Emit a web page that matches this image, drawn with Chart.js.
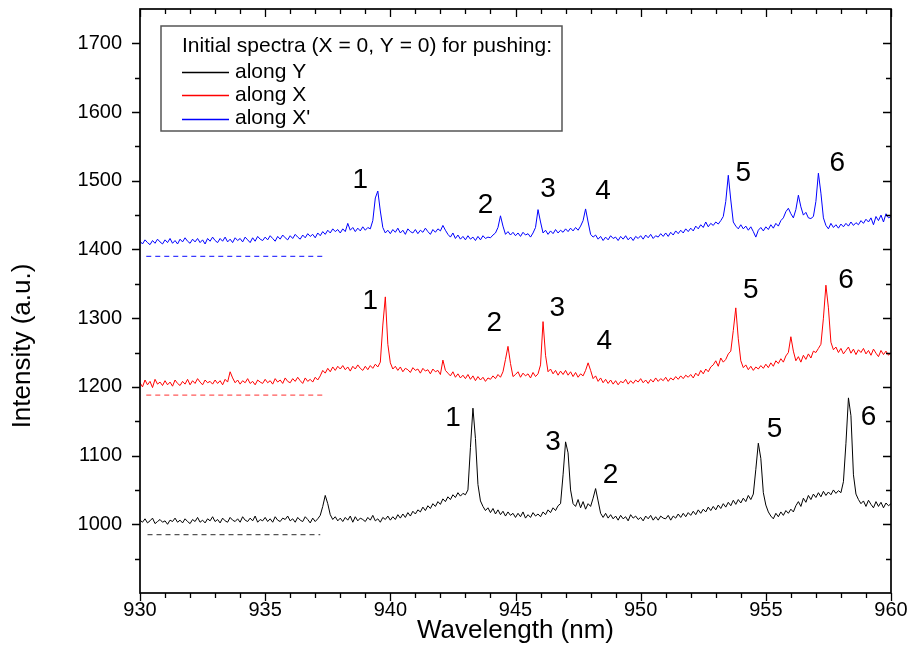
<!DOCTYPE html>
<html><head><meta charset="utf-8">
<script src="https://cdn.jsdelivr.net/npm/chart.js@4/dist/chart.umd.min.js"></script>
<style>html,body{margin:0;padding:0;background:#fff}canvas{display:block}</style>
</head><body>
<canvas id="c" width="913" height="648"></canvas>
<script>
// ---------- data ----------
const wavelengthStart = 930, wavelengthStep = 0.1, wavelengthCount = 301;
const wavelength = Array.from({length: wavelengthCount}, (_, i) => +(wavelengthStart + i * wavelengthStep).toFixed(1));

const seriesLabels = ['along Y', 'along X', "along X'"];
const legendTitle = 'Initial spectra (X = 0, Y = 0) for pushing:';
const xAxisTitle = 'Wavelength (nm)';
const yAxisTitle = 'Intensity (a.u.)';

const alongY = [
1006,1003,1008,1002,1005,1009,1001,1004,1007,1003,
1005,1000,1006,1004,1009,1003,1006,1002,1008,1004,
1001,1007,1004,1010,1003,1006,1002,1008,1005,1011,
1004,1007,1002,1009,1005,1003,1010,1006,1004,1008,
1003,1011,1006,1004,1009,1005,1012,1003,1007,1005,
1010,1004,1008,1003,1011,1006,1004,1009,1007,1012,
1005,1008,1003,1010,1006,1004,1011,1007,1002,1009,
1004,1008,1013,1026,1042,1030,1014,1007,1011,1005,
1009,1004,1010,1006,1012,1003,1011,1005,1009,1007,
1004,1010,1006,1013,1005,1008,1003,1010,1007,1012,
1006,1011,1007,1014,1009,1015,1010,1017,1012,1019,
1015,1021,1018,1025,1020,1027,1023,1030,1026,1033,
1029,1037,1033,1040,1036,1043,1039,1046,1041,1045,
1043,1050,1112,1169,1125,1058,1034,1026,1020,1024,
1017,1023,1015,1021,1014,1019,1012,1018,1013,1016,
1010,1016,1011,1018,1009,1014,1010,1017,1012,1015,
1011,1018,1014,1021,1017,1024,1020,1027,1030,1072,
1120,1104,1050,1030,1026,1036,1024,1033,1022,1030,
1026,1038,1052,1034,1016,1010,1016,1009,1014,1008,
1012,1006,1013,1008,1011,1005,1014,1009,1012,1007,
1010,1005,1012,1008,1013,1006,1011,1006,1012,1009,
1008,1013,1006,1012,1009,1015,1010,1016,1011,1017,
1013,1019,1014,1021,1016,1022,1018,1025,1020,1026,
1021,1028,1023,1030,1025,1032,1027,1035,1029,1036,
1031,1038,1033,1042,1036,1044,1080,1118,1096,1046,
1028,1018,1012,1008,1016,1011,1018,1013,1020,1016,
1022,1018,1027,1033,1026,1038,1032,1042,1036,1044,
1039,1046,1040,1048,1042,1047,1043,1050,1045,1049,
1046,1062,1118,1184,1158,1072,1044,1036,1030,1034,
1026,1035,1029,1024,1033,1026,1032,1024,1031,1027,
1030];

const alongX = [
1206,1200,1210,1203,1208,1199,1211,1204,1207,1202,
1209,1203,1207,1201,1210,1205,1202,1208,1204,1211,
1203,1209,1205,1212,1207,1203,1210,1206,1208,1204,
1210,1205,1209,1203,1211,1207,1222,1213,1206,1210,
1204,1209,1206,1212,1205,1208,1203,1210,1207,1205,
1211,1206,1209,1204,1212,1207,1210,1205,1213,1208,
1206,1212,1208,1214,1209,1205,1213,1208,1211,1207,
1214,1210,1216,1224,1220,1227,1222,1229,1224,1230,
1226,1231,1225,1229,1223,1230,1226,1232,1227,1224,
1230,1225,1231,1227,1233,1229,1236,1290,1331,1262,
1235,1226,1230,1224,1229,1222,1227,1225,1221,1228,
1224,1226,1220,1227,1223,1225,1219,1226,1222,1224,
1218,1239,1224,1220,1216,1222,1214,1219,1213,1217,
1212,1218,1211,1216,1209,1215,1210,1214,1208,1213,
1211,1216,1212,1218,1214,1222,1240,1259,1234,1215,
1218,1222,1214,1220,1216,1219,1213,1221,1215,1219,
1232,1295,1246,1222,1226,1219,1224,1217,1223,1218,
1224,1217,1222,1215,1221,1214,1219,1216,1224,1235,
1224,1212,1216,1208,1213,1206,1211,1205,1210,1204,
1209,1203,1208,1206,1211,1204,1209,1205,1210,1207,
1212,1206,1210,1205,1211,1207,1213,1208,1212,1209,
1214,1208,1213,1210,1215,1211,1216,1212,1217,1214,
1218,1213,1220,1216,1224,1219,1226,1222,1229,1232,
1238,1230,1242,1236,1240,1248,1252,1282,1315,1270,
1238,1228,1232,1225,1230,1224,1229,1226,1231,1227,
1233,1228,1235,1230,1238,1234,1241,1236,1245,1250,
1273,1252,1238,1244,1236,1246,1240,1248,1242,1252,
1250,1256,1262,1300,1348,1315,1265,1254,1258,1250,
1256,1248,1253,1258,1249,1255,1247,1254,1250,1256,
1248,1253,1246,1255,1249,1244,1253,1247,1252,1246,
1250];

const alongXPrime = [
1412,1408,1414,1410,1407,1413,1409,1415,1411,1408,
1414,1410,1416,1409,1413,1408,1415,1411,1417,1412,
1409,1415,1411,1416,1410,1414,1408,1416,1412,1418,
1413,1410,1416,1412,1418,1411,1415,1410,1417,1413,
1416,1411,1418,1414,1410,1417,1412,1419,1415,1413,
1418,1414,1420,1416,1412,1419,1415,1421,1417,1414,
1420,1416,1422,1418,1415,1421,1417,1423,1419,1422,
1417,1424,1420,1426,1422,1428,1424,1430,1426,1429,
1424,1430,1426,1438,1428,1432,1426,1431,1427,1433,
1428,1432,1430,1442,1475,1485,1456,1432,1424,1428,
1423,1429,1425,1431,1424,1428,1422,1430,1426,1424,
1429,1423,1428,1425,1431,1426,1422,1429,1425,1430,
1427,1435,1428,1422,1418,1424,1416,1421,1415,1419,
1414,1420,1415,1418,1413,1419,1414,1420,1416,1418,
1417,1421,1424,1432,1449,1434,1422,1426,1421,1425,
1420,1424,1419,1425,1421,1423,1418,1424,1432,1458,
1440,1424,1428,1422,1427,1423,1429,1424,1428,1425,
1430,1426,1431,1427,1432,1428,1434,1442,1459,1440,
1422,1418,1421,1415,1419,1413,1418,1414,1420,1416,
1418,1413,1419,1415,1420,1414,1418,1413,1419,1416,
1420,1415,1421,1417,1422,1416,1420,1418,1423,1419,
1424,1419,1425,1421,1427,1423,1428,1424,1430,1426,
1431,1427,1434,1430,1436,1432,1440,1433,1438,1435,
1440,1437,1442,1448,1470,1508,1472,1440,1434,1430,
1436,1430,1434,1428,1433,1426,1418,1428,1432,1427,
1433,1429,1436,1431,1438,1434,1442,1446,1455,1460,
1452,1446,1458,1479,1462,1450,1454,1446,1445,1448,
1470,1511,1482,1446,1435,1430,1438,1432,1436,1431,
1437,1433,1438,1434,1440,1435,1439,1436,1442,1438,
1444,1440,1446,1436,1448,1442,1450,1440,1452,1446,
1448];

// dashed zero-reference levels (Y, X, X')
const referenceLevels = [985, 1188, 1390];
const referenceFrom = [930.3, 930.25, 930.25];
const referenceTo = [937.2, 937.35, 937.35];

// peak number labels
const labelsY_text = ['1','3','2','5','6'];
const labelsY_x = [942.5, 946.5, 948.8, 955.35, 959.1];
const labelsY_y = [1154, 1120, 1072, 1139, 1156];
const labelsX_text = ['1','2','3','4','5','6'];
const labelsX_x = [939.2, 944.15, 946.67, 948.55, 954.4, 958.2];
const labelsX_y = [1325, 1292, 1314, 1267, 1340, 1355];
const labelsXp_text = ['1','2','3','4','5','6'];
const labelsXp_x = [938.8, 943.8, 946.3, 948.5, 954.1, 957.85];
const labelsXp_y = [1500, 1464, 1487, 1484, 1511, 1525];

// axis ticks
const xMajorTicks = [930, 935, 940, 945, 950, 955, 960];
const xMinorTicks = [931,932,933,934,936,937,938,939,941,942,943,944,946,947,948,949,951,952,953,954,956,957,958,959];
const yMajorTicks = [1000, 1100, 1200, 1300, 1400, 1500, 1600, 1700];
const yMinorTicks = [950, 1050, 1150, 1250, 1350, 1450, 1550, 1650];
const xMin = 930, xMax = 960, yMin = 900, yMax = 1750;

// ---------- chart ----------
const FONT = "'Liberation Sans', Arial, Helvetica, sans-serif";
const colors = ['#000000', '#ff0000', '#0000ff'];
const dashColors = ['#555555', '#ff5a5a', '#3a3aff'];
const seriesValues = [alongY, alongX, alongXPrime];

const datasets = [];
seriesValues.forEach((vals, k) => {
  datasets.push({
    label: seriesLabels[k],
    data: wavelength.map((w, i) => ({x: w, y: vals[i]})),
    borderColor: colors[k], borderWidth: 1, pointRadius: 0, tension: 0, fill: false
  });
});
referenceLevels.forEach((lv, k) => {
  datasets.push({
    label: 'ref' + k,
    data: [{x: referenceFrom[k], y: lv}, {x: referenceTo[k], y: lv}],
    borderColor: dashColors[k], borderWidth: 1.2, borderDash: [5, 4], pointRadius: 0, fill: false
  });
});

const peakSets = [
  {t: labelsY_text, x: labelsY_x, y: labelsY_y},
  {t: labelsX_text, x: labelsX_x, y: labelsX_y},
  {t: labelsXp_text, x: labelsXp_x, y: labelsXp_y}
];

const decorPlugin = {
  id: 'decor',
  afterDatasetsDraw(chart) {
    const {ctx, chartArea: a, scales: {x, y}} = chart;
    ctx.save();
    // frame
    ctx.strokeStyle = '#000';
    ctx.lineWidth = 1.7;
    ctx.strokeRect(a.left, a.top, a.right - a.left, a.bottom - a.top);
    // ticks
    ctx.lineWidth = 1.3;
    ctx.beginPath();
    const xt = (vals, len) => vals.forEach(v => {
      const p = Math.round(x.getPixelForValue(v)) + 0.5;
      ctx.moveTo(p, a.bottom); ctx.lineTo(p, a.bottom + len);
      ctx.moveTo(p, a.top); ctx.lineTo(p, a.top + len);
    });
    const yt = (vals, len) => vals.forEach(v => {
      const p = Math.round(y.getPixelForValue(v)) + 0.5;
      ctx.moveTo(a.left, p); ctx.lineTo(a.left - len, p);
      ctx.moveTo(a.right, p); ctx.lineTo(a.right - len, p);
    });
    xt(xMajorTicks, 8); xt(xMinorTicks, 5);
    yt(yMajorTicks, 8); yt(yMinorTicks, 5);
    ctx.stroke();

    // y axis title
    ctx.fillStyle = '#000';
    ctx.font = '26px ' + FONT;
    ctx.textAlign = 'center';
    ctx.textBaseline = 'middle';
    ctx.save();
    ctx.translate(23, 346);
    ctx.rotate(-Math.PI / 2);
    ctx.fillText(yAxisTitle, 0, 0);
    ctx.restore();

    // peak labels
    ctx.font = '28px ' + FONT;
    peakSets.forEach(s => s.t.forEach((t, i) => {
      ctx.fillText(t, x.getPixelForValue(s.x[i]), y.getPixelForValue(s.y[i]));
    }));

    // legend
    const lx = 161, ly = 26, lw = 401, lh = 105;
    ctx.fillStyle = '#fff';
    ctx.fillRect(lx, ly, lw, lh);
    ctx.strokeStyle = '#555';
    ctx.lineWidth = 1.5;
    ctx.strokeRect(lx, ly, lw, lh);
    ctx.font = '21px ' + FONT;
    ctx.textAlign = 'left';
    ctx.fillStyle = '#000';
    ctx.fillText(legendTitle, 182, 46);
    seriesLabels.forEach((lab, k) => {
      const yy = 72 + k * 23.3;
      ctx.strokeStyle = colors[k];
      ctx.lineWidth = 1.3;
      ctx.beginPath();
      ctx.moveTo(182, Math.round(yy) + 0.5);
      ctx.lineTo(229, Math.round(yy) + 0.5);
      ctx.stroke();
      ctx.fillStyle = '#000';
      ctx.fillText(lab, 235, yy);
    });
    ctx.restore();
  }
};

new Chart(document.getElementById('c').getContext('2d'), {
  type: 'line',
  data: {datasets},
  plugins: [decorPlugin],
  options: {
    responsive: false,
    animation: false,
    events: [],
    layout: {padding: {top: 9, right: 22, left: 46, bottom: 0}},
    plugins: {legend: {display: false}, tooltip: {enabled: false}},
    scales: {
      x: {
        type: 'linear', min: xMin, max: xMax,
        afterBuildTicks: s => { s.ticks = xMajorTicks.map(v => ({value: v})); },
        afterFit: s => { s.height = 55; s.paddingLeft = 0; s.paddingRight = 0; },
        grid: {display: false, drawTicks: false},
        border: {display: false},
        ticks: {padding: 5, autoSkip: false, maxRotation: 0, color: '#000', font: {family: FONT, size: 20}},
        title: {display: true, text: xAxisTitle, color: '#000', font: {family: FONT, size: 26}, padding: {top: 0, bottom: 2}}
      },
      y: {
        type: 'linear', min: yMin, max: yMax,
        afterBuildTicks: s => { s.ticks = yMajorTicks.map(v => ({value: v})); },
        afterFit: s => { s.width = 94; s.paddingTop = 0; s.paddingBottom = 0; },
        grid: {display: false, drawTicks: false},
        border: {display: false},
        ticks: {padding: 18, color: '#000', font: {family: FONT, size: 20}, callback: v => String(v)},
        title: {display: false}
      }
    }
  }
});
</script>
</body></html>
